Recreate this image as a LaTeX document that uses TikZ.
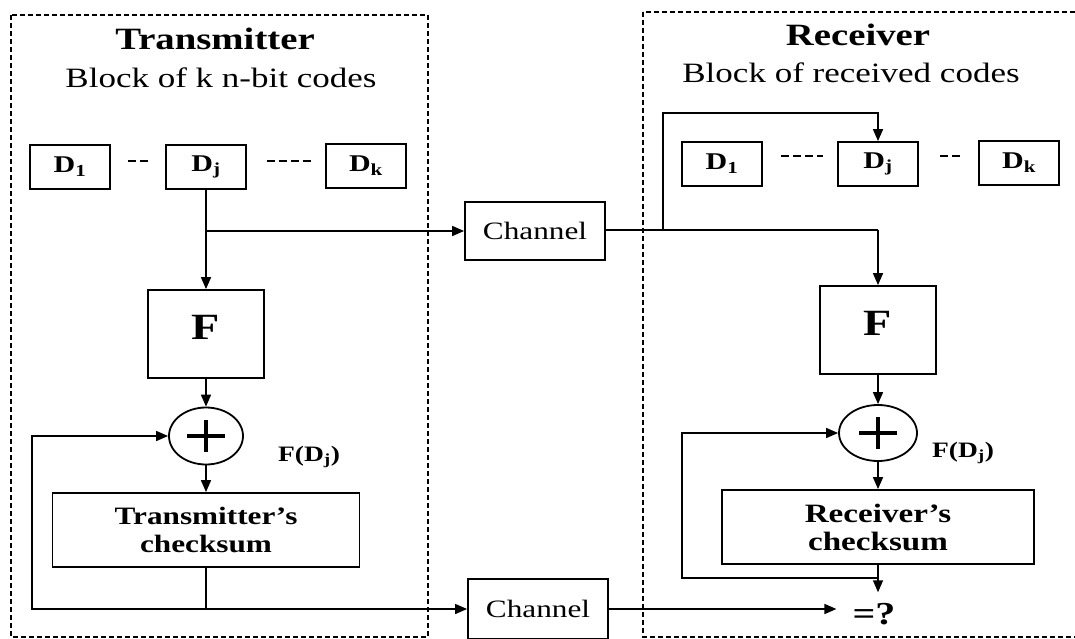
\documentclass[tikz,border=0pt]{standalone}
\usepackage{fontspec}
\setmainfont{Liberation Serif}[FakeStretch=1.25]
\usetikzlibrary{arrows.meta,shapes.geometric}
\newcommand{\fsz}[1]{\fontsize{#1}{#1}\selectfont}
\tikzset{
  box/.style={draw, line width=1.8pt, inner sep=0pt},
  dbox/.style={box, minimum width=80pt, minimum height=44pt, font=\bfseries\fsz{24}},
  fbox/.style={box, minimum width=116pt, minimum height=88pt, font=\bfseries\fsz{37}, text depth=14pt},
  chbox/.style={box, minimum width=140pt, minimum height=58pt, font=\fsz{25}},
  ckbox/.style={box, minimum height=74pt, align=center},
  sumnode/.style={draw, ellipse, line width=1.8pt, inner sep=0pt},
  ln/.style={line width=1.6pt},
  arr/.style={line width=1.6pt, -{Triangle[length=12pt,width=10pt]}},
  frame/.style={line width=1.8pt, dash pattern=on 5pt off 3pt},
  dots/.style={line width=1.6pt, dash pattern=on 8pt off 4pt},
  plus/.style={line width=3.2pt}
}
\begin{document}
\begin{tikzpicture}[x=1pt,y=-1pt]
\useasboundingbox (0,0) rectangle (1075,639);
% frames
\draw[frame] (11,15) rectangle (428,637);
\draw[frame] (643,12) rectangle (1090,637);
% ---------- Transmitter ----------
\node[font=\bfseries\fsz{31}] (tTitle) at (215,38.5) {Transmitter};
\node[font=\fsz{28}] (tBlock) at (221,78) {Block of k n-bit codes};
\node[dbox] (tD1) at (70,167) {D\textsubscript{1}};
\node[dbox] (tDj) at (206,167) {D\textsubscript{j}};
\node[dbox] (tDk) at (366,166) {D\textsubscript{k}};
\draw[dots] (128,161) -- (148,161);
\draw[dots] (267,161) -- (313,161);
\node[fbox] (tF) at (206,334) {F};
\node[sumnode, minimum width=74pt, minimum height=57pt] (tSum) at (206,436) {};
\draw[plus] ([xshift=-19pt]tSum.center) -- ([xshift=19pt]tSum.center);
\draw[plus] ([yshift=-16pt]tSum.center) -- ([yshift=16pt]tSum.center);
\node[font=\bfseries\fsz{22}] (tFD) at (309,457) {F(D\textsubscript{j})};
\node[ckbox, minimum width=307pt, font=\bfseries\fontsize{25}{28}\selectfont] (tCk) at (206,530) {Transmitter's\\checksum};
% channels
\node[chbox] (ch1) at (535,231) {Channel};
\node[chbox, minimum height=60pt] (ch2) at (538,609) {Channel};
% Tx connectors
\coordinate (tBr) at (206,231);
\coordinate (tJ) at (206,609);
\coordinate (tL) at (32,609);
\draw[ln] (tDj.south) -- (tBr);
\draw[arr] (tBr) -- (tF.north);
\draw[arr] (tBr) -- (ch1.west);
\draw[arr] (tF.south) -- (tSum.north);
\draw[arr] (tSum.south) -- (tCk.north);
\draw[ln] (tCk.south) -- (tJ);
\draw[arr] (tJ) -- (tL) |- (tSum.west);
\draw[arr] (tJ) -- (ch2.west);
% ---------- Receiver ----------
\node[font=\bfseries\fsz{31}] (rTitle) at (858,35) {Receiver};
\node[font=\fsz{28}] (rBlock) at (851,73) {Block of received codes};
\node[dbox] (rD1) at (722,164) {D\textsubscript{1}};
\node[dbox] (rDj) at (878,164) {D\textsubscript{j}};
\node[dbox] (rDk) at (1019,163) {D\textsubscript{k}};
\draw[dots] (781,156) -- (823,156);
\draw[dots] (940,156) -- (960,156);
\node[fbox] (rF) at (878,330) {F};
\node[sumnode, minimum width=78pt, minimum height=56pt] (rSum) at (878,433) {};
\draw[plus] ([xshift=-19pt]rSum.center) -- ([xshift=19pt]rSum.center);
\draw[plus] ([yshift=-16pt]rSum.center) -- ([yshift=16pt]rSum.center);
\node[font=\bfseries\fsz{22}] (rFD) at (963,453) {F(D\textsubscript{j})};
\node[ckbox, minimum width=312pt, font=\bfseries\fontsize{26.5}{28}\selectfont] (rCk) at (878,527) {Receiver's\\checksum};
\node[font=\bfseries\fsz{32}, inner sep=0pt, text height=21pt, text depth=0pt] (eq) at (874,614) {=?};
% Rx connectors
\coordinate (rBr) at (663,230);
\coordinate (rTop) at (663,113);
\coordinate (rDn) at (878,230);
\coordinate (rJ) at (878,578);
\coordinate (rL) at (682,578);
\coordinate (eqTop) at ([yshift=11pt]eq.north);
\draw[ln] (ch1.east |- rBr) -- (rDn);
\draw[arr] (rDn) -- (rF.north);
\draw[arr] (rBr) -- (rTop) -| (rDj.north);
\draw[arr] (rF.south) -- (rSum.north);
\draw[arr] (rSum.south) -- (rCk.north);
\draw[arr] (rCk.south) -- (rCk.south |- eqTop);
\draw[arr] (rJ) -- (rL) |- (rSum.west);
\draw[arr] (ch2.east) -- ([xshift=-16pt]eq.west |- ch2.east);
\end{tikzpicture}
\end{document}
